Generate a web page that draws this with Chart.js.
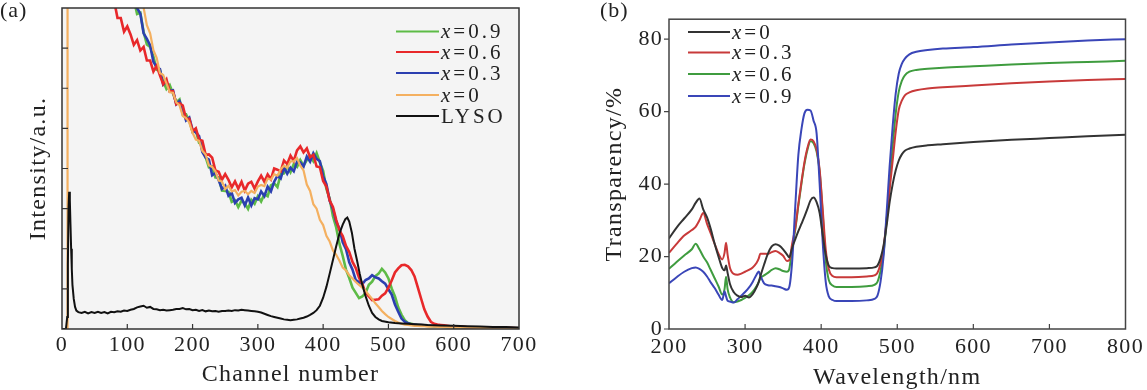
<!DOCTYPE html>
<html>
<head>
<meta charset="utf-8">
<script src="https://cdn.jsdelivr.net/npm/chart.js@4.4.1/dist/chart.umd.min.js"></script>
<style>
  body { margin: 0; background: #fff; }
  #wrap { position: relative; width: 1147px; height: 390px; }
  #chartA { position: absolute; left: 0; top: 0; }
  #chartB { position: absolute; left: 590px; top: 0; }
</style>
</head>
<body>
<div id="wrap">
  <canvas id="chartA" width="590" height="390"></canvas>
  <canvas id="chartB" width="557" height="390"></canvas>
</div>
<script>
// ---- panel (a): pulse height spectra ----
const channels = [
  80, 85, 90, 95, 100, 105, 110, 115, 120, 125,
  130, 135, 140, 145, 150, 155, 160, 165, 170, 175,
  180, 185, 190, 195, 200, 205, 210, 215, 220, 225,
  230, 235, 240, 245, 250, 255, 260, 265, 270, 275,
  280, 285, 290, 295, 300, 305, 310, 315, 320, 325,
  330, 335, 340, 345, 350, 355, 360, 365, 370, 375,
  380, 385, 390, 395, 400, 405, 410, 415, 420, 425,
  430, 435, 440, 445, 450, 455, 460, 465, 470, 475,
  480, 485, 490, 495, 500, 505, 510, 515, 520, 525,
  530, 535, 540, 545, 550, 555, 560, 565, 570, 575,
  580, 585, 590, 595, 600, 620, 640, 660, 680, 700
];
const countsX09 = [
  9.52, 9.41, 8.97, 8.89, 8.48, 8.46, 8.22, 7.85, 7.88, 7.40,
  7.09, 7.03, 6.79, 6.46, 6.45, 6.17, 5.98, 6.08, 5.87, 5.65,
  5.72, 5.35, 5.35, 5.18, 4.91, 4.95, 4.64, 4.62, 4.28, 4.03,
  4.05, 3.78, 3.78, 3.45, 3.44, 3.42, 3.17, 3.21, 3.04, 3.20,
  3.13, 2.99, 3.22, 3.12, 3.31, 3.18, 3.36, 3.31, 3.58, 3.63,
  3.54, 3.86, 3.88, 4.06, 3.91, 4.11, 4.04, 4.21, 4.07, 4.21,
  4.31, 4.18, 4.38, 4.15, 3.94, 3.49, 3.25, 2.81, 2.53, 2.12,
  1.82, 1.48, 1.27, 1.03, 0.9, 0.77, 0.81, 0.9, 1.1, 1.18,
  1.32, 1.38, 1.5, 1.41, 1.26, 1.01, 0.81, 0.54, 0.36, 0.22,
  0.15, 0.13, 0.11, 0.1, 0.09, 0.09, 0.08, 0.07, 0.07, 0.06,
  0.06, 0.05, 0.05, 0.05, 0.04, 0.04, 0.03, 0.03, 0.02, 0.02
];
const countsX06 = [
  8.17, 7.75, 7.75, 7.41, 7.54, 7.34, 7.08, 7.20, 6.94, 7.03,
  6.69, 6.69, 6.42, 6.56, 6.32, 6.10, 6.22, 5.92, 5.93, 5.60,
  5.63, 5.57, 5.24, 5.24, 4.93, 5.00, 4.72, 4.69, 4.34, 4.35,
  4.27, 3.95, 3.92, 3.72, 3.86, 3.72, 3.53, 3.68, 3.50, 3.67,
  3.45, 3.62, 3.67, 3.50, 3.68, 3.82, 3.67, 3.85, 3.73, 4.00,
  3.97, 3.93, 4.20, 4.11, 4.32, 4.19, 4.45, 4.55, 4.40, 4.50,
  4.28, 4.34, 4.05, 4.03, 3.69, 3.55, 3.20, 3.04, 2.72, 2.46,
  2.32, 2.07, 1.92, 1.67, 1.52, 1.28, 1.12, 0.9, 0.81, 0.72,
  0.73, 0.74, 0.83, 0.89, 1.03, 1.21, 1.41, 1.51, 1.59, 1.6,
  1.56, 1.47, 1.31, 1.04, 0.76, 0.49, 0.31, 0.18, 0.13, 0.11,
  0.1, 0.09, 0.08, 0.07, 0.07, 0.05, 0.04, 0.03, 0.03, 0.02
];
const countsX03 = [
  9.70, 9.25, 9.14, 8.70, 8.58, 8.49, 8.07, 8.00, 7.86, 7.37,
  7.23, 7.07, 6.66, 6.53, 6.48, 6.09, 6.16, 5.93, 5.95, 5.60,
  5.68, 5.47, 5.20, 5.27, 4.96, 4.90, 4.81, 4.41, 4.27, 4.22,
  3.83, 3.89, 3.71, 3.49, 3.57, 3.32, 3.39, 3.14, 3.23, 3.27,
  3.08, 3.28, 3.08, 3.26, 3.23, 3.43, 3.31, 3.55, 3.43, 3.67,
  3.82, 3.75, 4.03, 3.87, 4.02, 3.93, 4.17, 4.15, 4.05, 4.30,
  4.17, 4.38, 4.24, 4.18, 3.81, 3.61, 3.20, 2.99, 2.67, 2.5,
  2.16, 1.99, 1.66, 1.48, 1.22, 1.17, 1.12, 1.22, 1.26, 1.34,
  1.29, 1.26, 1.19, 1.13, 0.99, 0.86, 0.61, 0.43, 0.26, 0.18,
  0.14, 0.12, 0.11, 0.1, 0.1, 0.09, 0.08, 0.08, 0.07, 0.07,
  0.06, 0.06, 0.05, 0.05, 0.05, 0.04, 0.03, 0.03, 0.02, 0.02
];
const countsX0 = [
  10.25, 9.91, 9.77, 9.39, 9.22, 9.01, 8.63, 8.48, 8.10, 8.01,
  7.57, 7.37, 6.95, 6.76, 6.38, 6.33, 6.12, 5.90, 5.89, 5.65,
  5.58, 5.31, 5.26, 5.14, 4.89, 4.72, 4.69, 4.44, 4.35, 4.08,
  4.04, 3.93, 3.70, 3.68, 3.49, 3.57, 3.43, 3.46, 3.33, 3.42,
  3.44, 3.36, 3.44, 3.39, 3.55, 3.59, 3.56, 3.75, 3.72, 3.86,
  3.82, 3.98, 4.07, 4.02, 4.18, 4.18, 4.26, 4.07, 3.95, 3.60,
  3.44, 3.11, 3.00, 2.72, 2.59, 2.32, 2.18, 1.96, 1.85, 1.7,
  1.53, 1.46, 1.34, 1.26, 1.17, 1.1, 1.03, 0.95, 0.85, 0.75,
  0.64, 0.55, 0.45, 0.37, 0.3, 0.25, 0.2, 0.16, 0.13, 0.11,
  0.1, 0.09, 0.08, 0.08, 0.07, 0.07, 0.06, 0.06, 0.06, 0.05,
  0.05, 0.05, 0.05, 0.04, 0.04, 0.04, 0.03, 0.03, 0.02, 0.02
];
// x=0 trace also has a narrow spike at the low-channel end
const spikeChannels = [5, 8.3, 8.5];
const spikeCounts = [0, 0, 12];

const lysoChannels = [
  0, 6, 8, 9, 10, 11, 12, 13, 14, 15, 16, 18, 20, 22, 25,
  30, 35, 40, 45, 50, 55, 60, 65, 70, 75, 80, 85, 90, 95, 100,
  105, 110, 115, 120, 125, 130, 135, 140, 145, 150, 155, 160, 165, 170, 175,
  180, 185, 190, 195, 200, 205, 210, 215, 220, 225, 230, 235, 240, 245, 250,
  255, 260, 265, 270, 275, 280, 285, 290, 295, 300, 305, 310, 315, 320, 325,
  330, 335, 340, 345, 350, 355, 360, 365, 370, 375, 380, 385, 390, 395, 400,
  405, 410, 415, 420, 425, 430, 434, 437, 440, 444, 448, 452, 456, 460, 465,
  470, 475, 480, 485, 490, 500, 510, 520, 530, 540, 550, 560, 580, 600, 620,
  640, 660, 680, 700
];
const lysoCounts = [
  0, 0, 0.3, 1.6, 3.0, 3.42, 3.2, 2.6, 2.0, 1.5, 1.1, 0.75, 0.55, 0.46, 0.42,
  0.4, 0.43, 0.39, 0.42, 0.4, 0.43, 0.4, 0.42, 0.39, 0.43, 0.42, 0.44, 0.43, 0.46, 0.45,
  0.48, 0.5, 0.54, 0.56, 0.58, 0.53, 0.55, 0.5, 0.49, 0.47, 0.48, 0.46, 0.47, 0.48, 0.5,
  0.5, 0.52, 0.49, 0.5, 0.47, 0.48, 0.45, 0.47, 0.44, 0.46, 0.44, 0.45, 0.43, 0.45, 0.45,
  0.46, 0.45, 0.47, 0.46, 0.48, 0.47, 0.46, 0.45, 0.44, 0.43, 0.41, 0.38, 0.35, 0.32, 0.3,
  0.28, 0.26, 0.24, 0.23, 0.22, 0.23, 0.24, 0.26, 0.28, 0.31, 0.35, 0.4, 0.47, 0.58, 0.78,
  1.05, 1.38, 1.72, 2.06, 2.38, 2.6, 2.74, 2.78, 2.68, 2.4, 2.0, 1.7, 1.38, 1.1, 0.82,
  0.58, 0.4, 0.3, 0.24, 0.2, 0.17, 0.15, 0.14, 0.13, 0.12, 0.11, 0.1, 0.09, 0.08, 0.07,
  0.06, 0.05, 0.05, 0.04
];
const channelTicks = [0, 100, 200, 300, 400, 500, 600, 700];

// ---- panel (b): transmittance ----
const wavelengths = [
  200, 210, 220, 230, 235, 240, 245, 250, 255, 260,
  265, 270, 273, 275, 277, 280, 285, 290, 295, 300,
  305, 310, 315, 318, 320, 325, 330, 335, 340, 345,
  350, 355, 358, 362, 366, 370, 374, 378, 382, 386,
  390, 394, 398, 402, 406, 410, 415, 420, 440, 460,
  470, 474, 478, 482, 486, 490, 494, 498, 502, 506,
  510, 516, 525, 540, 560, 600, 650, 700, 750, 800
];
const transX0 = [
  25.0, 28.0, 30.5, 33.0, 34.8, 36.0, 33.0, 30.8, 27.5, 23.5,
  20.0, 16.8, 16.2, 17.5, 15.5, 12.5, 10.2, 9.2, 8.8, 9.2,
  8.7, 9.6, 11.5, 13.0, 14.5, 17.8, 20.8, 22.8, 23.4, 23.0,
  22.0, 20.6, 19.8, 22.5, 24.8, 27.0, 29.0, 31.0, 33.2, 35.5,
  36.3, 35.0, 32.0, 26.0, 20.5, 17.5, 16.8, 16.7, 16.7, 16.8,
  17.0, 17.5, 19.5, 23.0, 28.5, 35.0, 40.0, 43.8, 46.5, 48.2,
  49.2, 49.8, 50.3, 50.7, 51.0, 51.6, 52.2, 52.7, 53.2, 53.6
];
const transX03 = [
  21.0, 23.5, 25.8, 27.3, 28.2, 30.0, 32.0, 29.0, 26.3, 23.5,
  20.8, 19.2, 21.0, 23.8, 20.5, 17.0, 15.2, 15.0, 15.3, 15.8,
  16.3, 17.0, 18.2, 19.5, 20.8, 20.8, 20.7, 21.2, 21.5, 21.0,
  20.2, 18.8, 19.0, 23.7, 28.0, 34.5, 40.5, 46.0, 50.0, 52.3,
  51.8, 49.5, 44.0, 33.0, 22.0, 16.5, 14.6, 14.3, 14.3, 14.5,
  14.8, 15.5, 18.0, 22.5, 30.0, 38.5, 46.5, 54.5, 60.5, 63.0,
  64.5, 65.3, 65.9, 66.4, 66.7, 67.2, 67.8, 68.3, 68.7, 69.0
];
const transX06 = [
  16.6, 18.5, 20.3, 22.0, 23.5, 22.0, 20.0, 18.4, 16.2, 14.0,
  11.8, 9.5, 11.0, 14.4, 11.0, 8.8, 7.4, 7.6, 8.0, 8.6,
  9.3, 10.3, 11.8, 13.0, 14.0, 14.8, 15.5, 16.3, 16.8, 16.5,
  16.0, 15.8, 16.5, 22.5, 27.5, 34.0, 40.0, 45.5, 49.5, 51.8,
  51.3, 49.0, 43.5, 32.0, 19.0, 13.5, 12.0, 11.6, 11.6, 11.8,
  12.2, 13.0, 16.0, 21.0, 30.0, 40.0, 50.5, 59.5, 65.5, 68.5,
  70.0, 71.0, 71.5, 71.8, 72.1, 72.5, 73.0, 73.4, 73.7, 74.0
];
const transX09 = [
  12.6, 14.3, 15.8, 16.8, 17.0, 16.6, 15.8, 14.5, 12.8, 11.3,
  9.5, 8.0, 10.4, 9.0, 7.8, 7.6, 7.3, 8.2, 9.2, 10.2,
  11.4, 13.0, 15.0, 15.9, 14.8, 12.6, 12.1, 12.0, 11.8, 11.6,
  11.2, 10.8, 11.5, 19.0, 34.0, 48.0, 55.0, 59.5, 60.5, 60.3,
  57.5, 54.0, 40.0, 24.0, 13.0, 9.0, 8.0, 7.7, 7.7, 7.9,
  8.3, 9.2, 13.0, 20.0, 32.0, 45.0, 56.0, 65.0, 70.5, 73.2,
  74.6, 75.8, 76.5, 77.0, 77.4, 77.8, 78.5, 79.1, 79.6, 80.0
];

const serif = "'Liberation Serif', 'Times New Roman', serif";
const ink = '#222';

function pairs(xs, ys) {
  return xs.map((x, i) => ({ x: x, y: ys[i] }));
}

// draws "x=0.3" with an italic x
function drawKeyText(ctx, text, x, y, size) {
  ctx.textBaseline = 'middle';
  ctx.textAlign = 'left';
  ctx.fillStyle = ink;
  if (text.startsWith('x=')) {
    ctx.font = 'italic ' + size + 'px ' + serif;
    ctx.fillText('x', x, y);
    const w = ctx.measureText('x').width;
    ctx.font = size + 'px ' + serif;
    ctx.fillText(text.slice(1), x + w, y);
  } else {
    ctx.font = size + 'px ' + serif;
    ctx.fillText(text, x, y);
  }
}

// frame, inward ticks, legend and panel tag
function decor(cfg) {
  return {
    id: 'decor',
    beforeDraw(chart) {
      const ctx = chart.ctx;
      ctx.letterSpacing = '1.3px';
      const a = chart.chartArea;
      ctx.save();
      ctx.fillStyle = cfg.plotBg;
      ctx.fillRect(a.left, a.top, a.right - a.left, a.bottom - a.top);
      ctx.restore();
    },
    afterDraw(chart) {
      const ctx = chart.ctx;
      const a = chart.chartArea;
      ctx.save();
      ctx.strokeStyle = cfg.frame;
      ctx.lineWidth = 1.5;
      ctx.strokeRect(a.left, a.top, a.right - a.left, a.bottom - a.top);

      ctx.lineWidth = 1.2;
      ctx.beginPath();
      chart.scales.x.ticks.forEach(t => {
        if (t.value <= chart.scales.x.min || t.value >= chart.scales.x.max) return;
        const px = chart.scales.x.getPixelForValue(t.value);
        ctx.moveTo(px, a.bottom);
        ctx.lineTo(px, a.bottom - 5);
      });
      chart.scales.y.ticks.forEach(t => {
        const py = chart.scales.y.getPixelForValue(t.value);
        if (cfg.yTicksOut) {
          ctx.moveTo(a.left, py);
          ctx.lineTo(a.left - 5, py);
        } else {
          if (t.value <= chart.scales.y.min || t.value >= chart.scales.y.max) return;
          ctx.moveTo(a.left, py);
          ctx.lineTo(a.left + 6, py);
        }
      });
      ctx.stroke();

      // legend
      cfg.keys.forEach((k, i) => {
        const y = cfg.keyRows[i];
        ctx.strokeStyle = k.color;
        ctx.lineWidth = 2;
        ctx.beginPath();
        ctx.moveTo(cfg.keyX0, y);
        ctx.lineTo(cfg.keyX1, y);
        ctx.stroke();
        ctx.letterSpacing = '3px';
        drawKeyText(ctx, k.label, cfg.keyX1 + 2, y + 1, 21);
      });

      ctx.letterSpacing = '1px';
      ctx.font = '22px ' + serif;
      ctx.fillStyle = ink;
      ctx.textBaseline = 'middle';
      ctx.textAlign = 'left';
      ctx.fillText(cfg.tag, cfg.tagX, 11);
      ctx.restore();
    }
  };
}

Chart.defaults.font.family = serif;
Chart.defaults.color = ink;

// ---- chart (a) ----
const colA = { x09: '#5dbb46', x06: '#e8282a', x03: '#2b3fb0', x0: '#f4b060', lyso: '#111111' };

new Chart(document.getElementById('chartA'), {
  type: 'line',
  data: {
    datasets: [
      { label: 'LYSO', data: pairs(lysoChannels, lysoCounts), borderColor: colA.lyso, borderWidth: 2, order: 0 },
      { label: 'x=0', data: pairs(spikeChannels.concat(channels), spikeCounts.concat(countsX0)), borderColor: colA.x0, borderWidth: 2.2, order: 1 },
      { label: 'x=0.6', data: pairs(channels, countsX06), borderColor: colA.x06, borderWidth: 2.6, order: 2 },
      { label: 'x=0.3', data: pairs(channels, countsX03), borderColor: colA.x03, borderWidth: 2.6, order: 3 },
      { label: 'x=0.9', data: pairs(channels, countsX09), borderColor: colA.x09, borderWidth: 2.6, order: 4 }
    ]
  },
  options: {
    responsive: false,
    animation: false,
    clip: 0,
    elements: { point: { radius: 0 }, line: { tension: 0 } },
    layout: { padding: { left: 0, right: 71, top: 8, bottom: 0 } },
    plugins: { legend: { display: false }, tooltip: { enabled: false } },
    scales: {
      x: {
        type: 'linear', min: 0, max: 700,
        afterBuildTicks: s => { s.ticks = channelTicks.map(v => ({ value: v })); },
        ticks: { font: { size: 22 }, padding: 3, maxRotation: 0, autoSkip: false },
        grid: { display: false, drawTicks: false },
        border: { display: false },
        title: { display: true, text: 'Channel number', font: { size: 24 }, padding: { top: 0, bottom: 1 } },
        afterFit: s => { s.height = 61; }
      },
      y: {
        min: 0, max: 8,
        ticks: { display: false, stepSize: 1 },
        grid: { display: false, drawTicks: false },
        border: { display: false },
        title: { display: true, text: 'Intensity/a.u.', font: { size: 24 }, padding: { top: 24.5, bottom: 0 } },
        afterFit: s => { s.width = 62; }
      }
    }
  },
  plugins: [decor({
    plotBg: '#f4f4f4', frame: '#333', yTicksOut: false,
    keys: [
      { label: 'x=0.9', color: colA.x09 },
      { label: 'x=0.6', color: colA.x06 },
      { label: 'x=0.3', color: colA.x03 },
      { label: 'x=0', color: colA.x0 },
      { label: 'LYSO', color: colA.lyso }
    ],
    keyRows: [31.5, 52, 73, 95, 116], keyX0: 396, keyX1: 439,
    tag: '(a)', tagX: 0
  })]
});

// ---- chart (b) ----
const colB = { x0: '#333333', x03: '#c83a3a', x06: '#3f9c3f', x09: '#3a46b8' };

new Chart(document.getElementById('chartB'), {
  type: 'line',
  data: {
    datasets: [
      { label: 'x=0', data: pairs(wavelengths, transX0), borderColor: colB.x0, order: 0 },
      { label: 'x=0.3', data: pairs(wavelengths, transX03), borderColor: colB.x03, order: 2 },
      { label: 'x=0.6', data: pairs(wavelengths, transX06), borderColor: colB.x06, order: 3 },
      { label: 'x=0.9', data: pairs(wavelengths, transX09), borderColor: colB.x09, order: 1 }
    ]
  },
  options: {
    responsive: false,
    animation: false,
    clip: 0,
    elements: { point: { radius: 0 }, line: { cubicInterpolationMode: 'monotone', borderWidth: 2 } },
    layout: { padding: { left: 0, right: 21, top: 8, bottom: 0 } },
    plugins: { legend: { display: false }, tooltip: { enabled: false } },
    scales: {
      x: {
        type: 'linear', min: 200, max: 800,
        ticks: { stepSize: 100, font: { size: 22 }, padding: 5, maxRotation: 0, autoSkip: false },
        grid: { display: false, drawTicks: false },
        border: { display: false },
        title: { display: true, text: 'Wavelength/nm', font: { size: 24 }, padding: { top: 0, bottom: -2 } },
        afterFit: s => { s.height = 61; }
      },
      y: {
        min: 0, max: 85.5,
        ticks: { stepSize: 20, includeBounds: false, font: { size: 22 }, padding: 6 },
        grid: { display: false, drawTicks: false },
        border: { display: false },
        title: { display: true, text: 'Transparency/%', font: { size: 24 }, padding: { top: 10, bottom: 0 } },
        afterFit: s => { s.width = 79; }
      }
    }
  },
  plugins: [decor({
    plotBg: '#ffffff', frame: '#444', yTicksOut: true,
    keys: [
      { label: 'x=0', color: colB.x0 },
      { label: 'x=0.3', color: colB.x03 },
      { label: 'x=0.6', color: colB.x06 },
      { label: 'x=0.9', color: colB.x09 }
    ],
    keyRows: [32, 52.5, 74, 96], keyX0: 98, keyX1: 140,
    tag: '(b)', tagX: 10
  })]
});
</script>
</body>
</html>
